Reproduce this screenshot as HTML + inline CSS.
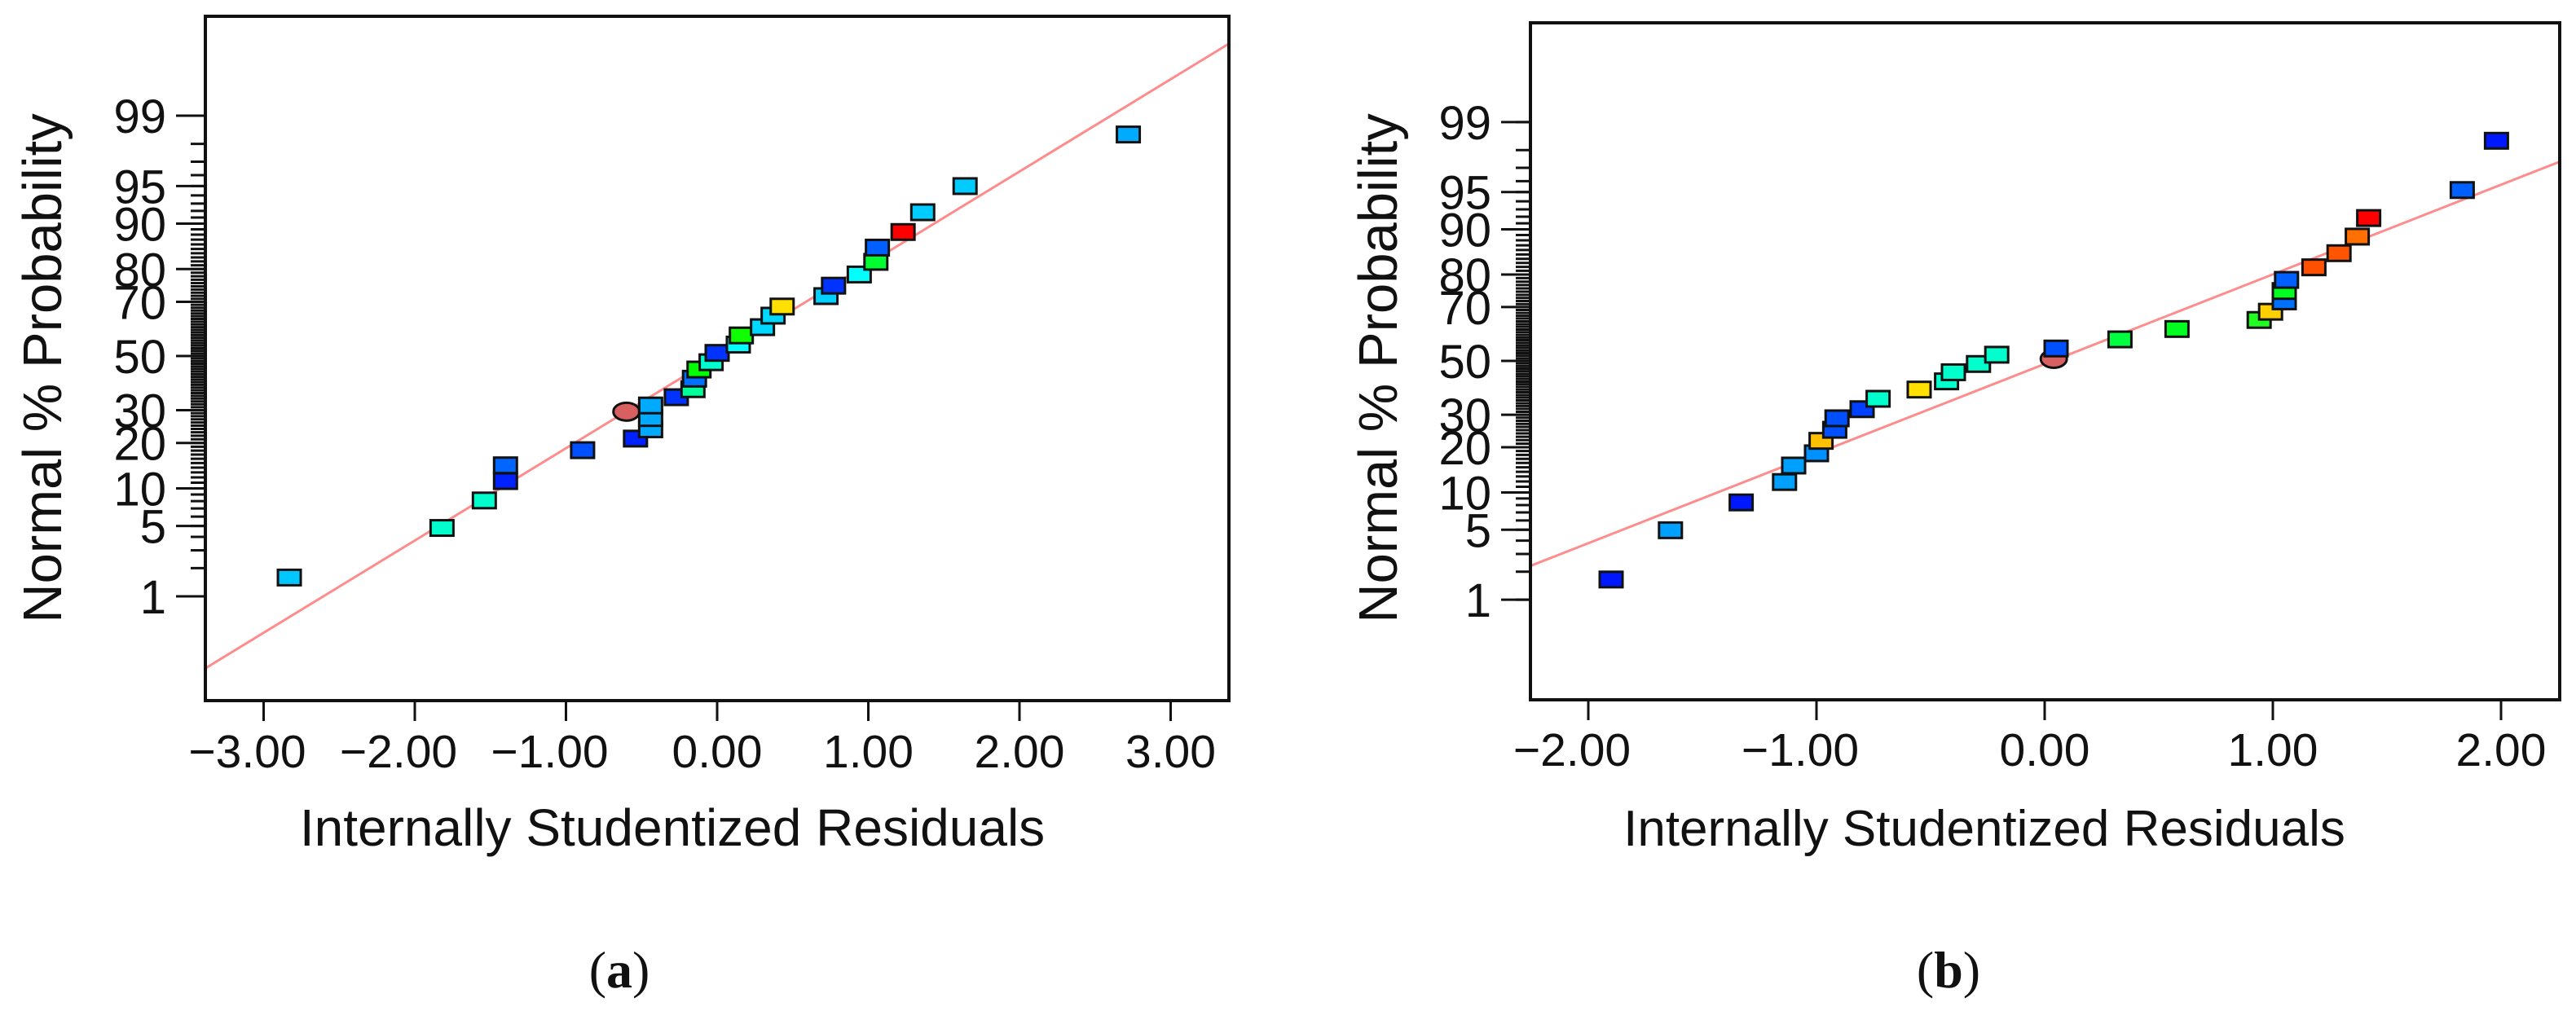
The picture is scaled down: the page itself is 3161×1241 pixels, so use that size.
<!DOCTYPE html>
<html><head><meta charset="utf-8"><style>
html,body{margin:0;padding:0;background:#fff;}
svg{display:block;}
text{font-family:"Liberation Sans",Arial,sans-serif;fill:#111;}
.cap{font-family:"Liberation Serif","Times New Roman",serif;}
</style></head><body>
<svg id="fig" width="3161" height="1241" viewBox="0 0 3161 1241" xmlns="http://www.w3.org/2000/svg"></svg>
<script>
// ---- Panel (a) data ----
const residualsA = [-2.83,-1.82,-1.54,-1.40,-1.40,-0.89,-0.54,-0.44,-0.44,-0.44,-0.27,-0.16,-0.15,-0.12,-0.04,0.00,0.14,0.16,0.30,0.37,0.43,0.72,0.77,0.94,1.05,1.06,1.23,1.36,1.64,2.72];
const probsA = [1.6,4.8,8.1,11.3,14.5,18.1,21.2,23.9,27.4,31.6,34.5,37.4,41.3,44.8,47.6,51.2,54.4,57.9,61.0,65.2,68.4,71.9,75.2,78.5,81.9,85.3,88.5,91.8,95.0,98.4];
const colorsA = ["#00c8ff","#00ffcc","#00ffcc","#0022ff","#0066ff","#0050ff","#0022ff","#00aaff","#00aaff","#00aaff","#0033ff","#00ff99","#0070ff","#00ff00","#00ffd0","#0033ff","#00ffff","#10ff00","#00d8ff","#00d8ff","#ffe000","#00d0ff","#0033ff","#00ffff","#00ff30","#0060ff","#ff0000","#00ccff","#00ccff","#00aaff"];
const circleA = [-0.60, 29.5];
const fitA = [0.893, 0.0];
const xTicksA = [-3,-2,-1,0,1,2,3];
// ---- Panel (b) data ----
const residualsB = [-1.90,-1.64,-1.33,-1.14,-1.10,-1.00,-0.98,-0.92,-0.91,-0.80,-0.73,-0.55,-0.43,-0.40,-0.29,-0.21,0.05,0.33,0.58,0.94,0.99,1.05,1.05,1.06,1.18,1.29,1.37,1.42,1.83,1.98];
const probsB = [1.66,4.95,8.4,11.9,15.4,18.4,21.8,25.1,28.8,31.9,35.6,39.0,42.1,45.6,48.8,52.4,54.8,58.3,62.2,65.5,68.4,71.9,75.2,78.5,81.9,85.3,88.7,91.8,95.2,98.4];
const colorsB = ["#0018ff","#00a0ff","#0018ff","#00a0ff","#00a0ff","#0090ff","#ffc000","#0050ff","#0050ff","#0040ff","#00ffcc","#ffe000","#00ffcc","#00ffcc","#00ffcc","#00ffcc","#0050ff","#00ff40","#00ff20","#20ff20","#ffd000","#0070ff","#00ff20","#0060ff","#ff5000","#ff5500","#ff7000","#ff0000","#0060ff","#0018ff"];
const circleB = [0.04, 50.8];
const fitB = [0.873, -0.03];
const xTicksB = [-2,-1,0,1,2];
const yTickLabels = [1,5,10,20,30,50,70,80,90,95,99];

const NS="http://www.w3.org/2000/svg";
const svg=document.getElementById('fig');
function mk(tag,attrs,parent){const e=document.createElementNS(NS,tag);for(const k in attrs)e.setAttribute(k,attrs[k]);(parent||svg).appendChild(e);return e;}
function probit(p){
  const a=[-39.69683028665376,220.9460984245205,-275.9285104469687,138.357751867269,-30.66479806614716,2.506628277459239];
  const b=[-54.47609879822406,161.5858368580409,-155.6989798598866,66.80131188771972,-13.28068155288572];
  const c=[-0.007784894002430293,-0.3223964580411365,-2.400758277161838,-2.549732539343734,4.374664141464968,2.938163982698783];
  const d=[0.007784695709041462,0.3224671290700398,2.445134137142996,3.754408661907416];
  const pl=0.02425;let q,r;
  if(p<pl){q=Math.sqrt(-2*Math.log(p));return (((((c[0]*q+c[1])*q+c[2])*q+c[3])*q+c[4])*q+c[5])/((((d[0]*q+d[1])*q+d[2])*q+d[3])*q+1);}
  if(p>1-pl){q=Math.sqrt(-2*Math.log(1-p));return -(((((c[0]*q+c[1])*q+c[2])*q+c[3])*q+c[4])*q+c[5])/((((d[0]*q+d[1])*q+d[2])*q+d[3])*q+1);}
  q=p-0.5;r=q*q;return (((((a[0]*r+a[1])*r+a[2])*r+a[3])*r+a[4])*r+a[5])*q/(((((b[0]*r+b[1])*r+b[2])*r+b[3])*r+b[4])*r+1);
}
function panel(cfg){
  const g=mk('g',{});
  
  
  const X=v=>cfg.x0+cfg.xs*v;
  const Yz=z=>cfg.y50-cfg.ys*z;
  const Y=p=>Yz(probit(p/100));
  const clipId=cfg.name+'-clip';
  const defs=mk('defs',{},g);
  const cp=mk('clipPath',{id:clipId},defs);
  mk('rect',{x:cfg.L,y:cfg.T,width:cfg.R-cfg.L,height:cfg.B-cfg.T},cp);
  for(let p=1;p<=99;p++){
    const t=mk('line',{x1:cfg.L-18,x2:cfg.L,y1:Y(p),y2:Y(p),stroke:'#111','stroke-width':3},g);
    
    
  }
  yTickLabels.forEach(p=>{
    const t=mk('line',{x1:cfg.L-36,x2:cfg.L,y1:Y(p),y2:Y(p),stroke:'#111','stroke-width':3},g);
    
    
    const l=mk('text',{x:cfg.L-48,y:Y(p)+21,'text-anchor':'end','font-size':58,transform:'',},g);
    l.textContent=p;
    
    
  });
  cfg.xTicks.forEach(v=>{
    const t=mk('line',{x1:X(v),x2:X(v),y1:cfg.B,y2:cfg.B+25,stroke:'#111','stroke-width':3},g);
    
    
    const l=mk('text',{x:X(v)-(v<0?20:0),y:cfg.tickBase,'text-anchor':'middle','font-size':57},g);
    l.textContent=(v<0?'\u2212':'')+Math.abs(v).toFixed(2);
    
    
  });
  const vL=(cfg.L-cfg.x0)/cfg.xs, vR=(cfg.R-cfg.x0)/cfg.xs;
  const fl=mk('line',{x1:X(vL),y1:Yz(cfg.fit[0]*vL+cfg.fit[1]),x2:X(vR),y2:Yz(cfg.fit[0]*vR+cfg.fit[1]),stroke:'#ff8c8c','stroke-width':3,'clip-path':'url(#'+clipId+')'},g);
  
  
  const c=mk('ellipse',{cx:X(cfg.circle[0]),cy:Y(cfg.circle[1]),rx:16,ry:11,fill:'#d86060',stroke:'#111','stroke-width':3},g);
  
  
  cfg.res.forEach((v,i)=>{
    const r=mk('rect',{x:X(v)-14,y:Y(cfg.prob[i])-9.5,width:28,height:19,fill:cfg.colors[i],stroke:'#111','stroke-width':3},g);
    
    
  });
  const box=mk('rect',{x:cfg.L,y:cfg.T,width:cfg.R-cfg.L,height:cfg.B-cfg.T,fill:'none',stroke:'#111','stroke-width':4},g);
  
  
  const xt=mk('text',{x:cfg.xTitleX,y:cfg.xTitleY,'text-anchor':'middle','font-size':cfg.xTitleSize},g);
  xt.textContent='Internally Studentized Residuals';
  
  
  const yt=mk('text',{x:0,y:0,'text-anchor':'middle','font-size':67,transform:'translate('+(cfg.yTitleX)+','+cfg.yTitleY+') rotate(-90)'},g);
  yt.textContent='Normal % Probability';
  
  
  const cap=mk('text',{x:cfg.capX,y:1212,'text-anchor':'middle','font-size':64,'class':'cap'},g);
  cap.innerHTML='(<tspan font-weight="bold">'+cfg.cap+'</tspan>)';
  
  
}
panel({name:'panel-a',L:252,T:20,R:1508,B:860,x0:880,xs:185.5,y50:437,ys:126.8,fit:fitA,xTicks:xTicksA,
  res:residualsA,prob:probsA,colors:colorsA,circle:circleA,tickBase:942,xTitleX:825,xTitleY:1038,xTitleSize:64,yTitleX:75,yTitleY:452,capX:760,cap:'a'});
panel({name:'panel-b',L:1878,T:28,R:3141,B:859,x0:2509,xs:280,y50:443,ys:126,fit:fitB,xTicks:xTicksB,
  res:residualsB,prob:probsB,colors:colorsB,circle:circleB,tickBase:940,xTitleX:2435,xTitleY:1038,xTitleSize:62,yTitleX:1714,yTitleY:452,capX:2391,cap:'b'});
</script>
</body></html>
